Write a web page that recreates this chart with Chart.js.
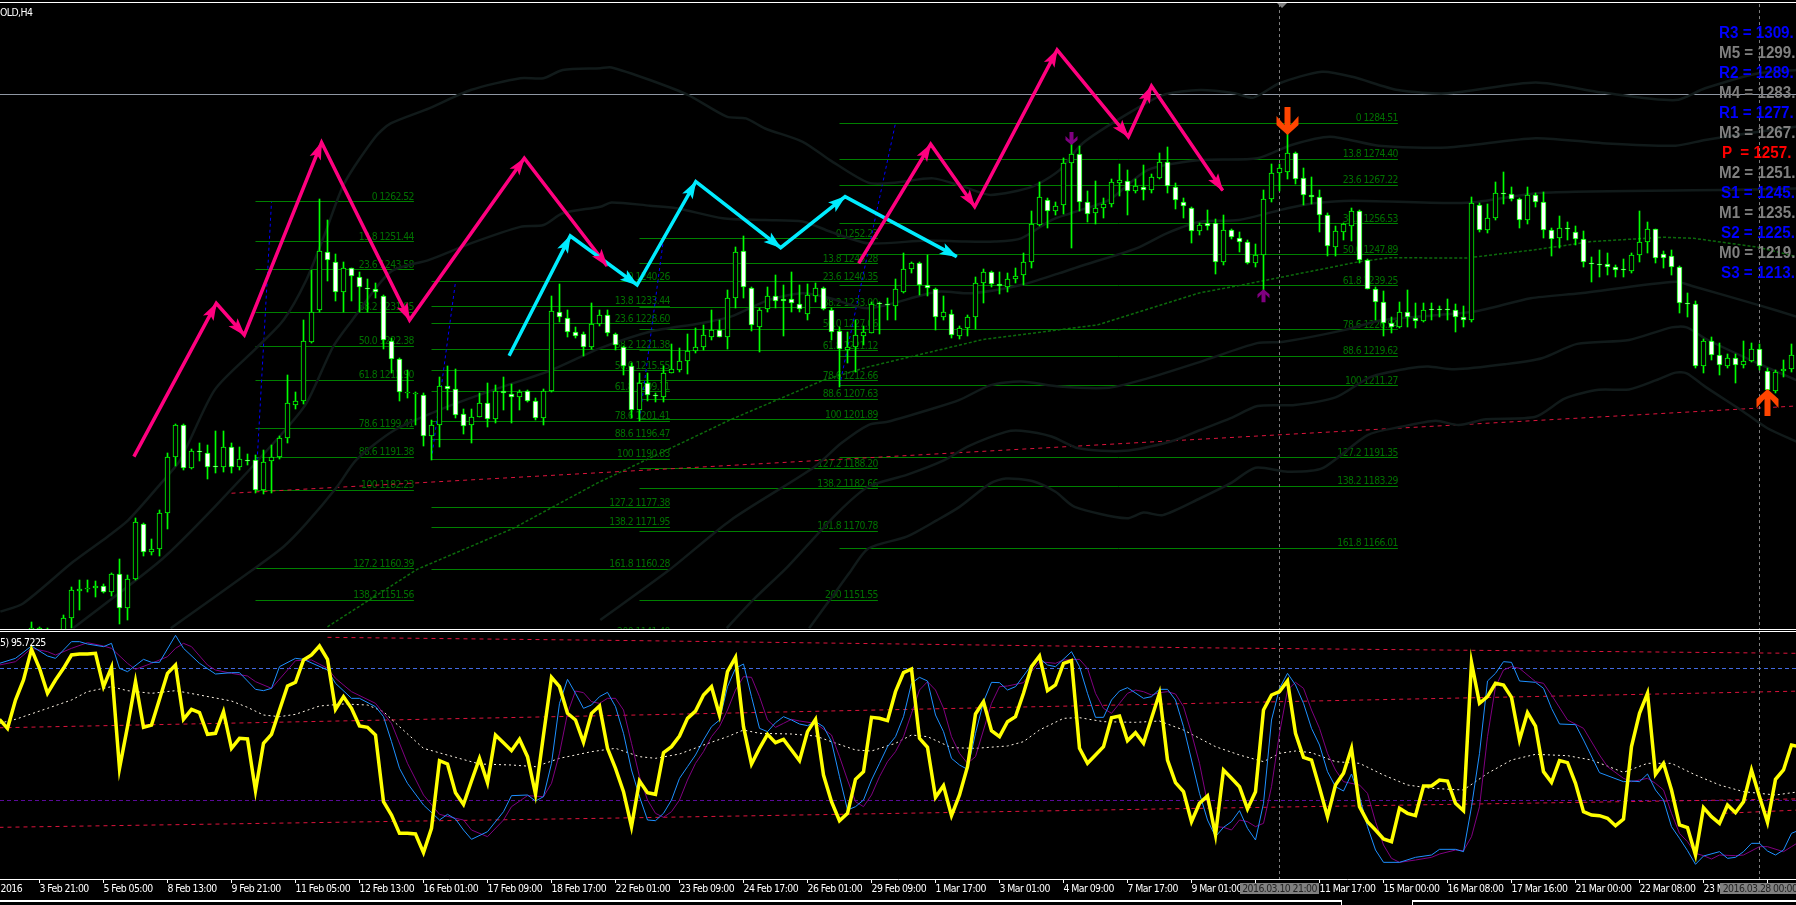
<!DOCTYPE html>
<html><head><meta charset="utf-8">
<script src="https://cdn.jsdelivr.net/npm/chart.js@4"></script>
<style>
html,body{margin:0;padding:0;background:#000;width:1796px;height:905px;overflow:hidden}
canvas{position:absolute;left:0}
.h{position:absolute;background:#fff}
.t{position:absolute;white-space:pre;line-height:1}
</style></head><body>
<canvas id="main" style="top:3px;width:1796px;height:626px" width="1796" height="626"></canvas>
<canvas id="sub" style="top:632px;width:1796px;height:268px" width="1796" height="268"></canvas>
<div id="overlay"></div>
<script>
// ---------- candles (bars numbered from 3 Feb 21:00 = 0) ----------
const firstBar=-1;
const opens=[1143.5,1143.2,1143,1140,1140,1146.7,1154.2,1154.6,1154.9,1155.6,1154.0,
1158.8,1149.3,1157.4,1172.7,1164.9,1166.0,1175.8,1191.4,1200.3,1188.5,
1193.3,1192.7,1188.9,1188.8,1194.4,1188.8,1190.7,1190.6,1182.2,1190.3,
1191.6,1196.7,1206.1,1207.2,1223.6,1232.3,1248.7,1245.9,1237.4,1244.0,
1241.7,1238.6,1238.4,1236.2,1223.9,1218.7,1209.3,1209.0,1208.7,1197.4,
1200.5,1211.2,1210.3,1203.4,1200.5,1202.7,1206.4,1202.2,1210.0,1209.0,
1208.3,1209.8,1207.2,1202.4,1210.0,1232.0,1230.1,1226.4,1225.7,1222.0,
1228.4,1231.0,1225.7,1222.2,1216.9,1204.5,1212.0,1208.6,1208.1,1215.0,
1215.7,1218.1,1220.9,1222.0,1224.8,1227.0,1225.0,1235.7,1249.0,1238.7,
1227.6,1232.6,1236.2,1235.4,1235.4,1234.0,1231.2,1236.4,1238.5,1232.4,
1226.6,1221.4,1222.2,1225.3,1226.1,1234.2,1233.9,1233.6,1237.5,1243.8,
1245.4,1239.4,1238.4,1230.6,1231.2,1225.3,1227.3,1230.4,1239.9,1243.1,
1239.8,1238.9,1241.2,1242.1,1245.9,1256.1,1263.1,1260.1,1261.6,1273.3,
1276.0,1262.4,1259.4,1260.8,1262.1,1267.9,1268.5,1265.7,1266.6,1266.0,
1269.3,1273.6,1266.8,1262.6,1260.9,1254.4,1256.6,1256.6,1245.9,1254.7,
1252.4,1251.3,1245.6,1247.7,1263.4,1270.5,1270.8,1276.1,1269.1,1264.4,
1263.8,1258.8,1249.9,1254.3,1255.9,1260.1,1246.4,1238.2,1234.8,1228.7,
1227.8,1231.8,1230.1,1229.4,1232.5,1232.7,1232.7,1232.4,1230.6,1229.6,
1261.6,1254.7,1258.0,1264.9,1264.8,1263.3,1257.5,1264.4,1262.4,1254.7,
1252.4,1255.4,1254.1,1252.1,1245.6,1245.3,1245.2,1244.5,1243.7,1243.4,
1247.7,1251.5,1254.9,1247.9,1247.6,1244.5,1234.5,1234.0,1216.7,1223.9,
1219.8,1216.8,1219.2,1217.0,1218.1,1221.7,1215.5,1209.9,1215.4,1216.1];
const highs=[1145.4,1144.2,1143.8,1142,1147.5,1155.4,1157.2,1157.2,1157.0,1156.1,1159.1,
1163.1,1158.6,1174.5,1173.0,1168.6,1176.7,1192.5,1200.7,1200.7,1193.6,
1195.3,1194.8,1198.7,1198.7,1195.3,1194.3,1192.2,1192.0,1193.4,1194.7,
1197.4,1214.2,1209.6,1229.6,1243.6,1263.3,1257.4,1248.0,1245.7,1244.0,
1242.9,1241.2,1239.9,1236.6,1224.5,1219.2,1215.7,1209.7,1209.2,1201.8,
1213.9,1216.8,1215.9,1204.8,1204.8,1209.4,1212.0,1211.5,1213.9,1211.7,
1210.2,1210.2,1207.8,1210.4,1236.3,1239.7,1232.4,1227.8,1226.4,1234.3,
1232.4,1232.4,1225.9,1222.4,1217.6,1214.8,1214.8,1209.4,1216.9,1223.0,
1221.8,1225.7,1227.3,1228.3,1232.4,1229.6,1238.0,1249.9,1253.0,1238.9,
1232.9,1238.8,1242.2,1239.4,1243.0,1239.4,1239.7,1240.0,1238.9,1232.9,
1227.6,1226.4,1229.6,1228.0,1234.8,1234.8,1235.7,1241.0,1248.2,1245.9,
1245.9,1247.8,1238.5,1236.3,1232.4,1228.1,1231.0,1241.7,1243.8,1243.4,
1243.1,1242.7,1244.2,1248.2,1260.1,1268.0,1263.5,1262.5,1274.7,1279.3,
1278.1,1265.6,1268.4,1263.5,1268.9,1273.1,1271.4,1268.8,1272.8,1270.3,
1276.1,1277.9,1267.9,1263.5,1261.2,1256.6,1260.3,1257.7,1258.9,1254.9,
1254.3,1251.8,1250.8,1265.9,1273.1,1273.1,1284.0,1276.4,1271.9,1269.4,
1266.0,1259.4,1255.8,1256.6,1260.8,1260.3,1246.6,1238.9,1237.6,1230.6,
1234.8,1238.0,1234.3,1234.3,1234.5,1233.6,1235.5,1234.1,1233.6,1263.8,
1262.2,1262.0,1268.0,1270.8,1266.8,1263.5,1266.6,1264.9,1265.2,1255.2,
1258.6,1257.0,1255.7,1254.4,1247.1,1249.2,1248.2,1245.0,1246.6,1248.2,
1260.1,1256.9,1255.0,1249.0,1249.2,1244.7,1237.3,1235.0,1224.4,1224.8,
1223.2,1220.2,1220.2,1223.7,1223.2,1223.0,1216.2,1215.7,1218.5,1223.0];
const lows=[1141,1141,1141,1138,1136,1143.8,1148.9,1154.0,1152.6,1153.7,1152.8,
1145.0,1146.1,1157.2,1164.0,1164.2,1163.9,1171.3,1189.0,1188.0,1188.1,
1190.5,1185.4,1187.1,1187.4,1186.9,1187.9,1189.3,1181.4,1181.2,1181.4,
1190.8,1195.5,1204.8,1206.2,1223.2,1231.8,1240.6,1235.0,1231.8,1235.0,
1232.0,1232.0,1235.9,1221.5,1214.8,1207.2,1207.8,1200.4,1194.6,1190.6,
1194.4,1204.6,1202.4,1197.9,1195.5,1202.7,1199.9,1201.0,1204.6,1201.0,
1204.6,1206.9,1201.8,1200.4,1209.7,1229,1225.0,1224.5,1219.7,1221.5,
1228,1225.3,1221.3,1214.3,1202.3,1201.5,1207.1,1206.9,1206.9,1214.8,
1215.2,1214.6,1220.5,1221.3,1224.1,1224.8,1221.6,1232.9,1235.9,1226.7,
1220.8,1232.0,1232.9,1225.3,1232.0,1232.0,1229.6,1234.8,1232.4,1224.1,
1211.1,1217.6,1215.3,1222.7,1225.9,1225.7,1229.6,1229.6,1237.1,1242.8,
1236.6,1236.2,1226.9,1229.6,1224.5,1224.4,1225.3,1227.1,1234.5,1238.9,
1236.9,1237.4,1239.9,1239.4,1244.2,1255.7,1255.4,1258.9,1259.2,1249.8,
1260.1,1257.0,1256.4,1258.2,1261.2,1264.2,1258.9,1265.0,1263.1,1265.1,
1268.8,1265.1,1260.6,1258.0,1251.0,1253.3,1254.7,1242.5,1245.0,1252.2,
1248.7,1245.3,1244.5,1237.1,1262.6,1265.7,1268.9,1267.4,1261.7,1262.0,
1254.3,1247.5,1247.5,1251.8,1251.7,1245.4,1238.2,1229.6,1225.3,1226.1,
1227.3,1227.8,1227.3,1229.2,1229.6,1230.6,1229.6,1226.4,1227.6,1229.2,
1254.3,1254.0,1257.5,1262.0,1262.8,1255.4,1256.4,1261.2,1252.4,1247.6,
1249.8,1251.8,1250.5,1244.5,1240.3,1241.7,1242.2,1241.5,1241.7,1242.8,
1245.9,1248.2,1245.4,1244.2,1242.2,1231.5,1230.6,1216.2,1215.0,1218.5,
1214.3,1216.2,1212.0,1216.2,1218.0,1215.7,1207.4,1209.4,1213.7,1215.3];
const closes=[1143.8,1143.9,1143.6,1141,1146.7,1154.4,1154.6,1155.1,1155.6,1154.0,1158.8,
1149.3,1157.4,1173.3,1164.9,1166.0,1175.8,1191.4,1200.3,1188.5,1193.3,
1192.8,1188.6,1188.7,1194.4,1188.6,1190.8,1190.5,1182.2,1190.2,1191.6,
1196.7,1206.4,1207.2,1223.7,1232.0,1248.8,1246.3,1237.4,1244.0,1241.8,
1238.8,1238.4,1237.4,1224.1,1218.7,1209.5,1209.5,1209.2,1197.4,1200.5,
1211.2,1210.3,1203.2,1200.0,1202.7,1206.4,1202.2,1210.0,1209.2,1208.1,
1209.7,1207.2,1202.4,1210.0,1232.2,1230.6,1226.4,1225.3,1222.0,1228.4,
1231.0,1225.9,1222.6,1216.9,1204.5,1212.0,1208.7,1208.4,1214.8,1215.9,
1218.1,1220.9,1222.0,1225.4,1227.0,1225.0,1235.9,1248.7,1238.8,1228.3,
1232.4,1236.2,1234.9,1234.9,1234.3,1232.6,1236.5,1238.5,1232.6,1226.4,
1221.6,1222.2,1225.5,1226.2,1234.1,1234.0,1233.7,1238.2,1243.8,1245.4,
1239.3,1238.5,1230.6,1231.8,1225.5,1227.3,1230.6,1239.9,1243.1,1239.6,
1239.1,1241.2,1242.0,1245.9,1256.3,1263.8,1260.1,1261.5,1273.3,1276.0,
1262.4,1259.1,1260.8,1262.1,1268.0,1268.6,1265.7,1266.9,1266.0,1269.4,
1273.6,1266.9,1263.0,1261.3,1254.4,1256.1,1255.9,1245.9,1254.7,1252.7,
1251.3,1245.6,1247.7,1263.3,1270.5,1271.9,1276.1,1268.8,1264.4,1263.8,
1258.8,1250.3,1254.4,1256.3,1260.1,1246.4,1238.4,1234.8,1228.7,1227.8,
1231.8,1230.4,1229.4,1232.4,1232.3,1232.5,1232.5,1230.6,1229.6,1262.2,
1254.7,1258.0,1264.9,1264.7,1263.4,1257.5,1264.4,1262.5,1254.7,1252.1,
1255.4,1254.9,1252.2,1245.7,1245.2,1245.1,1244.3,1243.5,1243.5,1247.7,
1251.5,1254.9,1246.8,1246.8,1244.5,1234.5,1234.0,1216.9,1223.9,1219.8,
1217.0,1219.2,1217.0,1218.3,1221.7,1216.7,1210.1,1215.3,1216.1,1219.8];

// ---------- x axis ----------
const tickBars=[-8,0,8,16,24,32,40,48,56,64,72,80,88,96,104,112,120,128,136,144,152,160,168,176,184,192,200,208,216];
const tickLabels=["2 Feb 2016","3 Feb 21:00","5 Feb 05:00","8 Feb 13:00","9 Feb 21:00","11 Feb 05:00","12 Feb 13:00","16 Feb 01:00","17 Feb 09:00","18 Feb 17:00","22 Feb 01:00","23 Feb 09:00","24 Feb 17:00","26 Feb 01:00","29 Feb 09:00","1 Mar 17:00","3 Mar 01:00","4 Mar 09:00","7 Mar 17:00","9 Mar 01:00","10 Mar 09:00","11 Mar 17:00","15 Mar 00:00","16 Mar 08:00","17 Mar 16:00","21 Mar 00:00","22 Mar 08:00","23 Mar 16:00","28 Mar 00:00"];
const cursorBars=[155,215];
const cursorLabels=["2016.03.10 21:00","2016.03.28 00:00"];

// ---------- Fibonacci objects ----------
const fibLevelsA=["0","13.8","23.6","38.2","50.0","61.8","78.6","88.6","100","127.2","138.2"];
const fibPricesA=[1262.52,1251.44,1243.58,1231.85,1222.38,1212.90,1199.41,1191.38,1182.23,1160.39,1151.56];
const fibLevelsB=["0","13.8","23.6","38.2","50.0","61.8","78.6","88.6","100","127.2","138.2","161.8","200"];
const fibPricesB=[1240.26,1233.44,1228.60,1221.38,1215.55,1209.71,1201.41,1196.47,1190.83,1177.38,1171.95,1160.28,1141.40];
const fibLevelsC=["0","13.8","23.6","38.2","50.0","61.8","78.6","88.6","100","127.2","138.2","161.8","200"];
const fibPricesC=[1252.23,1245.28,1240.35,1233.00,1227.06,1221.12,1212.66,1207.63,1201.89,1188.20,1182.66,1170.78,1151.55];
const fibLevelsD=["0","13.8","23.6","38.2","50.0","61.8","78.6","88.6","100","127.2","138.2","161.8"];
const fibPricesD=[1284.51,1274.40,1267.22,1256.53,1247.89,1239.25,1226.94,1219.62,1211.27,1191.35,1183.29,1166.01];
const fibStartBars=[27,49,75,100];
const fibEndBars=[46.8,78.8,104.8,169.8];
const fibDiagBars=[[27,29],[49,52],[75,78],[100,107]];
const fibDiagPrices=[[1182.2,1262.5],[1190.8,1240.3],[1201.9,1252.2],[1211.3,1284.5]];

// ---------- zigzag arrows ----------
const pinkBarsA=[11.8,22.1,25.6,35.26,46.26,60.6,70.95];
const pinkPricesA=[1191.6,1234.3,1225.5,1279.1,1229.65,1274.7,1244.7];
const cyanBars=[58.7,66.35,74.7,82.04,92.65,100.7,114.66];
const cyanPrices=[1219.7,1253.05,1239.4,1268.2,1249.8,1264.0,1247.3];
const pinkBarsB=[102.4,111.4,116.9,127.2,136.1,139.0,147.9];
const pinkPricesB=[1245.4,1278.6,1261.2,1304.9,1280.7,1294.8,1265.7];

// ---------- indicator lines on the price pane ----------
const hLinePrice=1292.5;
const redBars=[24,219.6];
const redPrices=[1181.4,1205.7];
const greenMaBars=[36,47.2,59.2,69.7,86.3,98,103.6,117.9,132.3,145,150.3,165,168.8,178.3,186.9,194,203,206.8,214.9,219.6];
const greenMaPrices=[1144.2,1160.2,1171.6,1184.2,1201.8,1212.9,1216.6,1224.2,1228.3,1237.2,1239.4,1245.9,1247,1246.9,1249.2,1251.5,1252.7,1252.4,1249.9,1247.3];
const bandABars=[-4.9,-2.05,4.2,8.5,11.1,15.2,17.6,21.9,27.1,30.5,33.35,35.7,38.1,42,43.9,48.7,53.9,60.1,63,65.4,70.1,71.5,76.3,81.1,85.9,88.3,90.7,95.4,98.8,103.6,106.9,111.7,115.5,118.9,124.1,127.5,130.4,136.1,140.4,145.1,149.4,151.75,155,160.3,164.1,169.8,176,187,195.4,204.5,208.2,214.9,219.6];
const bandAPrices=[1148.4,1150.7,1162.3,1169.3,1173.9,1184.2,1190.7,1210.2,1221.8,1229.65,1240.8,1253.8,1267.7,1280.7,1284.4,1288.6,1293.7,1297,1297,1299.3,1299.8,1300,1296.5,1292.3,1286.3,1285.8,1283,1279.3,1274.2,1267.9,1267.9,1269.1,1266.8,1264.5,1266.8,1271.4,1278.9,1287.2,1292.3,1293.7,1292.8,1291.6,1295.6,1298.8,1297.4,1293.7,1292.8,1295.8,1293,1290.9,1294.2,1298.4,1299.3];
const bandBBars=[4.2,15.2,21.9,30,33.35,36.7,39.1,43.9,48.7,53.9,60.1,63,65.4,70.1,71.5,76.3,79.6,85.4,90.7,95.4,98.8,103.6,110.8,115.5,119.4,122.7,126.5,128.9,133.7,138.5,145.1,152.25,156.5,161.3,167.4,176,187,195.4,204.5,208.2,214.9,219.6];
const bandBPrices=[1143.8,1162.8,1177.6,1197.2,1206.4,1222.2,1229.65,1243.1,1246.4,1251,1255.6,1256.1,1259.4,1261.2,1262.4,1261.5,1260.8,1258,1257.5,1257.1,1254.3,1251,1251.8,1251.5,1251.5,1252.4,1257.5,1259.4,1263.1,1271.4,1274.2,1274.7,1278.4,1280.7,1278.2,1277.7,1280.3,1278.9,1278.2,1279.8,1282.1,1283.5];
const bandCBars=[16.4,26.6,30.5,33.35,37.2,39.6,44.4,51,57.3,64,70.1,76.3,82.5,86.4,91.1,95.4,98.8,103.6,112.2,116.5,122.7,127.5,129.9,137.1,140.9,145.1,149.9,156,159.3,164.1,178.4,187.8,211.6,219.6];
const bandCPrices=[1143.8,1160,1166.5,1173,1183.2,1190.7,1199,1205.5,1210.6,1215.7,1221.8,1226.4,1228.7,1230.6,1235.2,1237.1,1235.7,1232.9,1237.5,1237.1,1239.4,1242.7,1244.5,1249.6,1253.8,1257,1257.5,1260.8,1262.2,1262.9,1262.3,1265.1,1265.9,1266.3];
const bandDBars=[70.1,78.7,86.4,96.9,100.2,103.6,106,111.7,115,118.9,122.7,127.5,133.7,138.5,145.1,152.2,155.5,163.2,167.9,179.3,186.4,192.6,204.5,206.9,214.9,219.6];
const bandDPrices=[1146.1,1160,1173.9,1188.8,1195.3,1200.4,1201.3,1205,1207.4,1211.5,1212.5,1211.1,1210.8,1213.4,1218,1223.2,1223.6,1226.9,1229.65,1232,1235.7,1237.1,1240.3,1238.9,1233.8,1230.6];
const bandEBars=[85.9,89.2,93.5,99.7,103.6,108.4,113.1,116,120.8,122.7,126.5,129.9,135.6,141.4,145.1,148.9,152.25,156.9,162,166.5,171.2,173.6,176.9,183.1,187.8,192.2,198.7,204,205.9,208.2,213,219.6];
const bandEPrices=[1143.8,1151.7,1160.9,1175.8,1183.2,1186.5,1190.6,1194.4,1198.5,1198.8,1197.2,1193.9,1193.2,1195.8,1199,1202.3,1205.7,1206,1208.1,1213.9,1216.2,1216.7,1215.9,1217.3,1219,1223,1224.1,1227.6,1227.6,1224.5,1219.4,1212.9];
const bandFBars=[96.2,98.8,101.2,103.6,108.4,112.2,115,118.9,120.8,124.1,127,129.4,135.9,138,140.4,145.1,148.9,152,156,160.3,166,170.2,174.5,177.4,180.8,187,190.7,194.9,198.7,202.1,204.5,205.9,208.2,213,216,219.6];
const bandFPrices=[1143.8,1151.7,1159.1,1166,1169.3,1173.9,1177.6,1184.2,1185.5,1184.8,1181.8,1177.6,1174.4,1176,1175.3,1180,1184.2,1188.5,1187.4,1188.3,1197.6,1199.9,1201.6,1200.4,1202,1202.7,1207.8,1210.2,1210.3,1212.9,1215,1214.8,1211.1,1204.1,1199.5,1195.8];

// ---------- signal arrows ----------
const orangeDownBar=156, orangeDownPrice=1281.2;
const orangeUpBar=216, orangeUpPrice=1210.4;
const purpleDownBar=129, purpleDownPrice=1278.4;
const purpleUpBar=153, purpleUpPrice=1238.2;

// ---------- pivot text ----------
const pivotTexts=["R3 = 1309.","M5 = 1299.","R2 = 1289.","M4 = 1283.","R1 = 1277.","M3 = 1267.","P  = 1257.","M2 = 1251.","S1 = 1245.","M1 = 1235.","S2 = 1225.","M0 = 1219.","S3 = 1213."];
const chartTitle="OLD,H4";
const oscTitle="5) 95.7225";

// ---------- oscillator ----------
const yellowFirstBar=-5;
const yellowLine=[55.3,51.25,64,73,86.8,78.25,67,73,78.25,84.25,84.7,84.7,85,70,78.7,33.25,52,72.25,51.7,52.75,64.3,76,79.75,55.3,59.8,58.3,48.55,49,58.75,42.25,46.75,46.45,23.2,44.5,48.55,59.5,70.3,71.95,82,84.25,88.3,82.3,59.8,65.5,60.25,52.3,51.7,48.25,18.25,12.25,4,4,3.7,-4.7,6.25,36.7,35.2,22.3,17,27.55,37.75,26.8,48.25,44.8,41.2,46.3,38.5,21.7,48.25,74.2,70,58,55,45,58,61.3,
42.25,33.25,22.75,7,27.55,22.3,21.55,40.3,43,47.8,55.75,59,66.25,70,57.25,76.75,83.2,52,35.2,42.25,48.55,44.8,46.3,41.5,36.7,49.75,55.3,30.25,18.25,9.7,13,28.3,31.75,56.2,55.75,54.7,67.75,76.3,77.95,46.75,42.7,20.2,25.45,11.95,21.25,34,57.7,63.25,50.2,47.5,54.25,56.5,67,79,83.8,68.2,70.75,80.5,81.7,42.25,35.5,39.25,43,56,56.8,45.7,49.3,44.5,55.75,67,37,26.8,22.75,9.25,17.5,
20.8,3.25,32.5,28.75,25,15,22.75,59.5,66.25,67.75,72.55,49,38.2,37,24.55,11.5,25.75,31,42.25,16,9.25,5.5,1.45,0.25,15.25,13,11.95,25.3,25.3,28,27.55,17.5,14.2,80.95,62.5,65.5,71.5,70.75,65.2,46,58.3,52.3,31.75,26.95,36.7,35.8,26.5,13.75,12.25,11.95,10.75,7.45,10.45,43,58,67,30.55,35.5,23.5,7.75,6.55,-5.75,15.55,11.5,8.5,16.75,13.3,18.25,32.5,20.5,8.95,28.3,32.5,43.75,43];
const blueBars=[-5,-3,-1,1,2,4,5,6,8,9,10,11,13,14,15,17,18,20,22,24,25,27,28,29,30,32,33,36,37,39,40,42,43,44,45,46,48,50,51,52,53,54,56,58,59,61,62,63,64,65,66,67,68,69,70,
71,72,73,74,75,76,77,78,79,80,81,82,83,84,85,86,87,88,89,90,91,92,93,94,95,96,97,98,99,100,101,102,103,104,105,106,107,108,109,110,111,112,113,114,115,116,117,118,119,120,121,122,124,125,126,127,129,130,131,132,133,134,135,136,138,139,140,141,142,143,144,145,
146,147,148,149,150,151,152,153,154,155,156,157,158,159,160,161,162,163,164,165,166,167,168,170,172,174,175,177,178,179,180,181,182,183,184,185,187,188,189,190,192,193,195,198,199,200,201,202,203,204,205,206,207,208,210,211,212,213,214,215,216,217,218,219,220];
const blueLine=[80.5,82.75,88.3,83.8,82.75,90.25,90.25,89.2,88,89.5,78.25,76.75,82.3,80.95,80.95,93.1,87.25,80.5,75.7,76.3,76.3,68.8,68.2,69.25,79,82.75,82.3,77.5,71.5,64.75,64.75,61,56.5,45.25,33.25,26.5,16.75,10,12.55,10.45,5.5,1.3,4.75,13.75,20.95,21.25,18.55,20.5,35.5,62.5,73.3,67,60.25,61.75,65.5,
67.45,61,49,32.5,20.5,10,9.7,13,19,28.75,34,39.25,46,52,55,70,78.25,80.2,65.5,51.25,49.75,53.8,56.5,55,53.2,52.45,54.25,52,45.25,29.5,14.5,16,19,28,35.5,43,47.5,56.5,71.5,74.2,72.55,57.25,49.75,37.75,34.75,32.8,49,63.25,71.95,71.8,68.5,70,79.75,82.75,79.75,79,85.75,79,67,56.2,56.2,64,68.05,69.55,64.75,65.5,68.8,68.8,64,52,37,22,
10,2.5,6.7,9.25,14.2,6.25,1,17.5,55,69.25,76,70.75,62.5,51.25,43.75,31.75,25,23.05,30.7,20.5,7,-3.5,-9.05,-9.05,-6.8,-5.75,-3.2,-3.2,-4.25,16,40,72.55,76,81.25,80.95,72.55,71.95,69.25,60.25,53.2,52.9,46,31.3,27.25,27.55,27.25,30.7,23.5,19,7,1.75,-3.8,-9.95,-6.2,-4.25,-7.25,-6.8,-4.25,-0.5,-0.5,-3.95,-5.75,-3.5,4,5.5];
const purpleBars=[-5,-3,-1,1,2,4,6,8,9,11,12,14,16,17,18,19,21,22,24,26,27,29,31,32,34,36,37,39,42,44,46,48,50,52,53,54,56,58,59,61,63,64,65,66,67,68,69,70,
71,72,73,74,75,76,77,78,79,80,81,82,83,84,85,86,87,88,89,90,91,92,93,94,95,97,99,100,101,102,103,104,105,106,107,108,109,110,111,112,113,114,115,116,117,118,119,120,121,123,124,125,127,128,130,131,132,133,134,135,136,137,138,139,140,141,142,143,144,145,
146,147,148,149,150,151,152,153,154,155,156,157,158,159,160,161,162,163,165,166,167,168,169,170,172,174,175,177,178,179,180,181,182,183,184,185,187,188,189,191,193,195,196,198,199,200,201,202,203,204,205,206,207,208,209,210,212,213,215,216,218,219,220];
const purpleLine=[79.75,81.25,87.25,85.75,84.25,87.25,89.8,88.3,87.25,80.5,77.8,80.5,83.5,87.25,89.5,88,79.75,77.5,76,74.8,72.25,69.25,77.5,81.7,82,78.25,73.75,67.75,62.5,53.5,35.5,21.25,12.55,10.75,10,5.5,2.5,10,16,20.95,20.5,26.5,40,58,68.05,67.3,63.25,62.5,
64.75,64.75,59.5,44.5,29.5,19,13,11.2,13.75,19,28,35.5,40.75,47.5,52,59.5,68.5,74.5,74.2,65.5,55,51.7,53.5,55.3,54.55,53.5,48.25,38.5,28,18.25,16,21.25,29.5,36.25,40.75,47.5,58,68.5,72.25,68.5,60.25,47.5,40,35.5,38.5,50.5,62.5,70,70.3,71.8,76.75,81.25,80.5,82,82.3,78.25,67,60.25,58,62.5,67,68.5,67.75,66.25,67.3,67.75,66.7,61,49,35.5,
17.5,7,6.7,5.5,10,9.25,7,8.5,25,49,68.5,71.95,69.25,59.5,51.25,40,32.5,27.25,25.75,22,9.25,-1.25,-7.25,-9.05,-8,-6.8,-5.3,-3.5,-3.8,2.5,16,47.5,70,77.5,79,78.25,72.25,71.5,66.25,55,51.25,39.25,34,28.75,27.25,28,28.75,26.5,23.5,13,4,0.25,-5,-6.05,-7.55,-5.75,-6.05,-5.75,-2,-2,-4.25,-2,0.25];
const whiteBars=[-5,-3,1,4,6,9,11,14,17,20,24,26,28,30,32,35,38,41,43,45,48,52,55,59,62,65,69,72,75,77,80,83,86,88,90,94,97,99,102,104,107,109,111,114,117,121,123,125,128,130,133,137,140,143,145,147,150,153,155,157,159,162,165,168,171,174,178,181,184,187,191,194,198,201,204,207,210,213,217,220];
const whiteLine=[53.5,55.3,60.25,64,67.75,70,68.2,67,68.2,66.25,63.55,60.7,57.25,56.5,57.55,61.3,62.2,61.75,58.75,52,42.25,38.2,35.2,34.75,34,37.75,40.75,42.25,38.5,37.75,39.7,43.75,47.5,50.5,49,48.7,47.8,45.25,41.5,41.05,44.5,48.25,47.5,42.55,42.25,43.3,45.25,50.5,55.75,56.05,54.25,53.95,54.55,50.5,46.75,43,39.25,36.25,40,41.05,40.3,36.25,35.5,30.25,25.75,24.25,23.5,31,37,39.55,38.95,37,31.45,35.5,35.5,30.25,25.75,22.75,21.25,22.75];
const oscBlueLevel=78.25, oscPurpleLevel=18.85;
const oscRedTopBars=[36,75,145,220];
const oscRedTopVals=[92.2,90.7,87.5,85];
const oscRedMidBars=[-5,70,145,220];
const oscRedMidVals=[51.5,56.9,62.5,68];
const oscRedLowBars=[-5,70,145,198,220];
const oscRedLowVals=[6.7,10.75,15.25,18.25,19.5];
const oscRedLow2Bars=[210.5,220];
const oscRedLow2Vals=[13,14.5];

// ---------- helpers ----------
const xMin=-39.5/8, xMax=xMin+1796/8;
const GREEN='#00ff00';
const TEXT_FONT="'DejaVu Sans Condensed','DejaVu Sans',sans-serif";
const TEXT_SPACING='-0.55px';
const pts=(xs,ys)=>xs.map((x,i)=>({x,y:ys[i]}));
const barOf=(k,first)=>first+k;
const fibLevels=[fibLevelsA,fibLevelsB,fibLevelsC,fibLevelsD];
const fibPrices=[fibPricesA,fibPricesB,fibPricesC,fibPricesD];

function line(data,color,width,order,extra){
  return Object.assign({type:'line',data,borderColor:color,borderWidth:width,pointRadius:0,tension:0,fill:false,order,spanGaps:false},extra||{});
}
const candleBars=opens.map((_,k)=>barOf(k,firstBar));
const wicks={type:'bar',order:50,grouped:false,barThickness:1,backgroundColor:GREEN,borderWidth:0,crisp:true,
  data:candleBars.map((x,k)=>({x,y:[lows[k],highs[k]]}))};
const bodies={type:'bar',order:49,grouped:false,barThickness:5,minBarLength:1,borderSkipped:false,borderWidth:1,borderColor:GREEN,crisp:true,
  backgroundColor:candleBars.map((x,k)=>closes[k]>=opens[k]?'#000000':'#ffffff'),
  data:candleBars.map((x,k)=>({x,y:[Math.min(opens[k],closes[k]),Math.max(opens[k],closes[k])]}))};

const mainDatasets=[
  line(pts([xMin,xMax],[hLinePrice,hLinePrice]),'#8f97a3',1,100,{snapY:true}),
  ...fibPrices.map((ps,s)=>line(ps.flatMap(p=>[{x:fibStartBars[s],y:p},{x:fibEndBars[s],y:p},{x:fibEndBars[s],y:null}]),'#008000',1,90,{snapY:true})),
  ...fibDiagBars.map((xs,s)=>line(pts(xs,fibDiagPrices[s]),'#0000ff',1,85,{borderDash:[3,3]})),
  line(pts(redBars,redPrices),'#dc143c',1,80,{borderDash:[4,4]}),
  line(pts(greenMaBars,greenMaPrices),'#0c6a0c',1.5,78,{borderDash:[3,2]}),
  ...[[bandABars,bandAPrices],[bandBBars,bandBPrices],[bandCBars,bandCPrices],[bandDBars,bandDPrices],[bandEBars,bandEPrices],[bandFBars,bandFPrices]]
     .map(([a,b])=>line(pts(a,b),'#111a1a',2.5,75,{tension:0.25,cubicInterpolationMode:'default'})),
  ...cursorBars.map(b=>line(pts([b,b],[1143,1318]),'#808080',1,60,{borderDash:[3,3]})),
  wicks,bodies,
  line(pts(pinkBarsA,pinkPricesA),'#ff007f',3.5,10,{zig:true}),
  line(pts(cyanBars,cyanPrices),'#00ecff',3.5,9,{zig:true}),
  line(pts(pinkBarsB,pinkPricesB),'#ff007f',3.5,8,{zig:true})
];

// keep hairlines and candle edges on whole pixels, tighten canvas text
const crispPlugin={id:'crisp',
  beforeDraw(c){ c.ctx.letterSpacing=TEXT_SPACING; },
  beforeDatasetsDraw(c){
  c.data.datasets.forEach((d,i)=>{
    const m=c.getDatasetMeta(i);
    if(d.snapY) m.data.forEach(p=>{ if(!p.skip) p.y=Math.floor(p.y)+0.5; });
    if(d.crisp) m.data.forEach(b=>{
      const top=Math.round(Math.min(b.y,b.base)),bot=Math.round(Math.max(b.y,b.base));
      b.y=top;b.base=Math.max(bot,top+1);b.height=b.base-b.y;
    });
  });
}};
function head(ctx,xa,ya,xb,yb,color){
  const a=Math.atan2(yb-ya,xb-xa);
  ctx.save();ctx.translate(xb,yb);ctx.rotate(a);
  ctx.fillStyle=color;ctx.beginPath();
  ctx.moveTo(1,0);ctx.lineTo(-17,-6);ctx.lineTo(-13,0);ctx.lineTo(-17,6);ctx.closePath();ctx.fill();
  ctx.restore();
}
function signal(ctx,x,y,dir,color,w,sh,wingY,notchY,len){
  // tip at (x,y); dir=+1 arrow points down, -1 points up
  const s=dir;
  ctx.fillStyle=color;ctx.beginPath();
  ctx.moveTo(x,y);
  ctx.lineTo(x-w,y-s*notchY);
  ctx.lineTo(x-w,y-s*wingY);
  ctx.lineTo(x-sh,y-s*notchY);
  ctx.lineTo(x-sh,y-s*len);
  ctx.lineTo(x+sh,y-s*len);
  ctx.lineTo(x+sh,y-s*notchY);
  ctx.lineTo(x+w,y-s*wingY);
  ctx.lineTo(x+w,y-s*notchY);
  ctx.closePath();ctx.fill();
}
const mainPlugin={id:'objects',
  beforeDatasetsDraw(c){
    const ctx=c.ctx,X=c.scales.x,Y=c.scales.y;
    ctx.save();ctx.font="10.3px "+TEXT_FONT;ctx.letterSpacing=TEXT_SPACING;
    ctx.fillStyle='#007000';ctx.textAlign='right';ctx.textBaseline='alphabetic';
    fibPrices.forEach((ps,s)=>ps.forEach((p,k)=>{
      ctx.fillText(fibLevels[s][k]+' '+p.toFixed(2),X.getPixelForValue(fibEndBars[s]),Y.getPixelForValue(p)-2);
    }));
    ctx.restore();
  },
  afterDatasetsDraw(c){
    const ctx=c.ctx,X=c.scales.x,Y=c.scales.y;
    c.data.datasets.forEach(d=>{ if(!d.zig) return;
      for(let k=1;k<d.data.length;k++){
        head(ctx,X.getPixelForValue(d.data[k-1].x),Y.getPixelForValue(d.data[k-1].y),X.getPixelForValue(d.data[k].x),Y.getPixelForValue(d.data[k].y),d.borderColor);
      }
    });
    signal(ctx,X.getPixelForValue(orangeDownBar),Y.getPixelForValue(orangeDownPrice),1,'#ff4500',11,3,19,10,28);
    signal(ctx,X.getPixelForValue(orangeUpBar),Y.getPixelForValue(orangeUpPrice),-1,'#ff4500',11,3,19,10,27);
    signal(ctx,X.getPixelForValue(purpleDownBar),Y.getPixelForValue(purpleDownPrice),1,'#800080',6,2,9,5,13);
    signal(ctx,X.getPixelForValue(purpleUpBar),Y.getPixelForValue(purpleUpPrice),-1,'#800080',6,2,9,5,13);
  }
};
new Chart(document.getElementById('main'),{
  type:'bar',
  data:{datasets:mainDatasets},
  plugins:[crispPlugin,mainPlugin],
  options:{responsive:false,animation:false,devicePixelRatio:1,events:[],layout:{padding:0},
    plugins:{legend:{display:false},tooltip:{enabled:false}},
    scales:{
      x:{type:'linear',min:xMin,max:xMax,offset:false,display:false},
      y:{type:'linear',min:1143.58,max:1317.95,display:false}
    }}
});

const subDatasets=[
  line(pts([xMin,xMax],[oscBlueLevel,oscBlueLevel]),'#4169e1',1,100,{borderDash:[4,3],snapY:true}),
  line(pts([xMin,xMax],[oscPurpleLevel,oscPurpleLevel]),'#5a0a9a',1,99,{borderDash:[4,3],snapY:true}),
  line(pts(oscRedTopBars,oscRedTopVals),'#dc143c',1,98,{borderDash:[4,4]}),
  line(pts(oscRedMidBars,oscRedMidVals),'#dc143c',1,97,{borderDash:[4,4]}),
  line(pts(oscRedLowBars,oscRedLowVals),'#dc143c',1,96,{borderDash:[4,4]}),
  line(pts(oscRedLow2Bars,oscRedLow2Vals),'#dc143c',1,95,{borderDash:[4,4]}),
  ...cursorBars.map(b=>line(pts([b,b],[-17,95]),'#808080',1,90,{borderDash:[3,3]})),
  line(pts(whiteBars,whiteLine),'#fff5e6',1,40,{borderDash:[2,3]}),
  line(pts(purpleBars,purpleLine),'#800080',1,30),
  line(pts(blueBars,blueLine),'#1e90ff',1,20),
  line(yellowLine.map((v,k)=>({x:barOf(k,yellowFirstBar),y:v})),'#ffff00',3.5,10)
];
new Chart(document.getElementById('sub'),{
  type:'line',
  data:{datasets:subDatasets},
  plugins:[crispPlugin],
  options:{responsive:false,animation:false,devicePixelRatio:1,events:[],layout:{padding:0},
    plugins:{legend:{display:false},tooltip:{enabled:false}},
    scales:{
      x:{type:'linear',min:xMin,max:xMax,offset:false,
        afterBuildTicks(s){s.ticks=tickBars.map(v=>({value:v}));},
        afterFit(s){s.height=21;s.paddingLeft=0;s.paddingRight=0;},
        border:{display:true,color:'#ffffff',width:1},
        grid:{display:true,drawOnChartArea:false,drawTicks:true,tickLength:4,color:'#ffffff',lineWidth:1},
        ticks:{autoSkip:false,maxRotation:0,minRotation:0,align:'start',padding:0,color:'#ffffff',
          font:{family:TEXT_FONT,size:10.4},
          callback:(v)=>tickLabels[tickBars.indexOf(v)]}
      },
      y:{type:'linear',min:-16.55,max:94.6,display:false}
    }}
});

// ---------- window chrome and fixed text ----------
const ov=document.getElementById('overlay');
function box(l,t,w,h,c){const d=document.createElement('div');d.className='h';d.style.cssText=`left:${l}px;top:${t}px;width:${w}px;height:${h}px;background:${c||'#fff'}`;ov.appendChild(d);return d;}
function txt(s,l,t,font,c){const d=document.createElement('div');d.className='t';d.textContent=s;d.style.cssText=`left:${l}px;top:${t}px;font:${font};color:${c}`;ov.appendChild(d);return d;}
box(0,2,1796,1);box(0,629,1796,1);box(0,631,1796,1);
box(0,900,1341,2);box(1412,900,384,2);box(1341,900,1,5);box(1412,900,1,5);
const tri=document.createElement('div');tri.style.cssText='position:absolute;left:1277px;top:3px;width:0;height:0;border-left:5px solid transparent;border-right:5px solid transparent;border-top:5px solid #808080';ov.appendChild(tri);
const small="10.4px "+TEXT_FONT;
txt(chartTitle,0,6,small,'#ffffff').style.letterSpacing=TEXT_SPACING;
txt(oscTitle,0,636,small,'#ffffff').style.letterSpacing=TEXT_SPACING;
[[1240,79],[1720,80]].forEach(([l,w],k)=>{
  const d=box(l,883,w,11,'#808080');
  d.style.cssText+=";color:#222;font:"+small+";line-height:11px;text-align:center;white-space:pre;letter-spacing:"+TEXT_SPACING;
  d.textContent=cursorLabels[k];
});
pivotTexts.forEach((s,k)=>{
  const c=s[0]==='P'?'#ff0000':(s[0]==='M'?'#808080':'#0000ff');
  const left=s[0]==='S'?1721:(s[0]==='P'?1722:1719);
  const d=txt(s,left,24+20*k,"bold 16px 'Liberation Sans',Arial,sans-serif",c);
  d.style.transform='scaleX(0.95)';d.style.transformOrigin='0 0';
});
</script>
</body></html>
